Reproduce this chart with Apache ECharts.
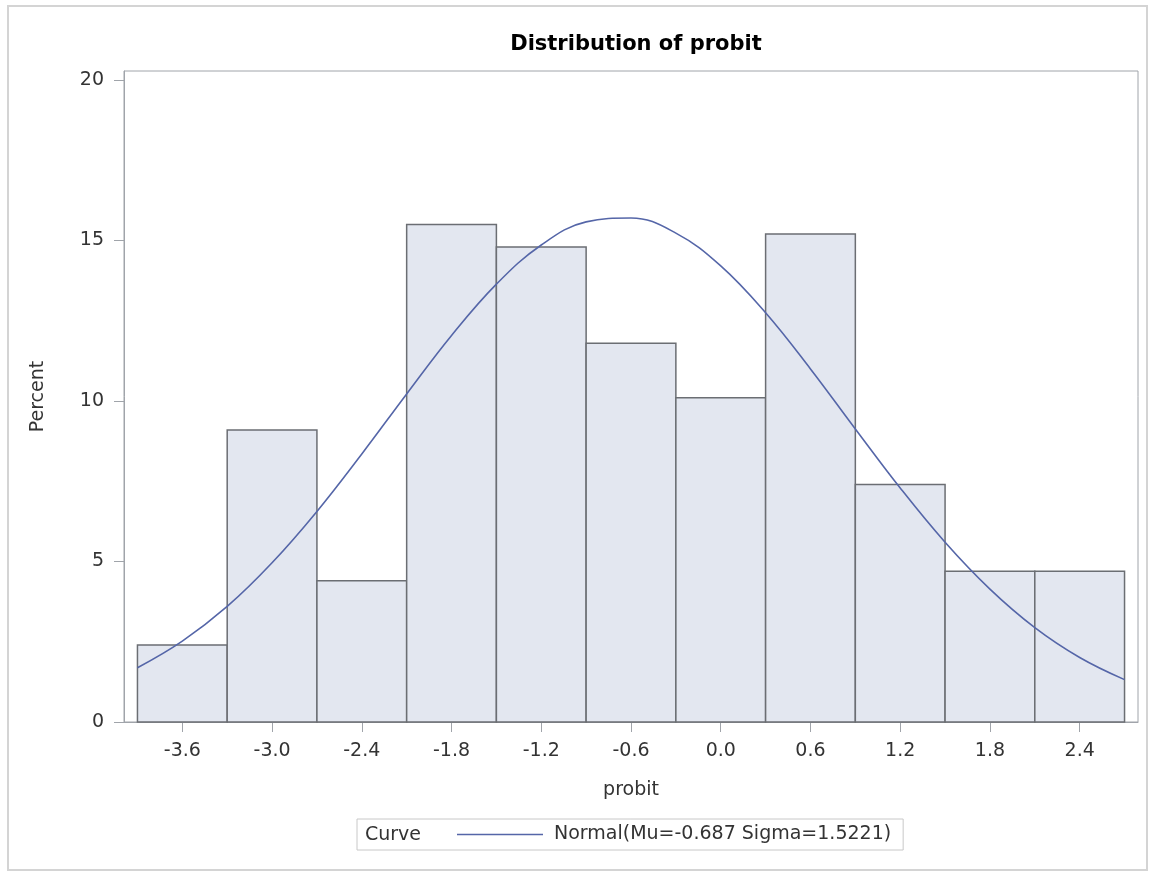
<!DOCTYPE html>
<html>
<head>
<meta charset="utf-8">
<script src="https://cdn.jsdelivr.net/npm/echarts@6/dist/echarts.min.js"></script>
<style>
    html, body { margin: 0; padding: 0; background: #fff; }
    #main { width: 1154px; height: 871px; }
</style>
</head>
<body>
<div id="main"></div>
<script>
// bin midpoints (width 0.6) and percent per bin
var binMids = [-3.6, -3.0, -2.4, -1.8, -1.2, -0.6, 0.0, 0.6, 1.2, 1.8, 2.4];
var binPct = [2.4, 9.1, 4.4, 15.5, 14.8, 11.8, 10.1, 15.2, 7.4, 4.7, 4.7];
var binWidth = 0.6;

// normal curve
var curveX = [-3.9, -3.6, -3.3, -3.0, -2.7, -2.4, -2.1, -1.8, -1.5, -1.2, -0.9, -0.6,
    -0.3, 0.0, 0.3, 0.6, 0.9, 1.2, 1.5, 1.8, 2.1, 2.4, 2.7];
var curveY = [1.69, 2.52, 3.60, 4.96, 6.56, 8.35, 10.22, 12.04, 13.64, 14.86, 15.58, 15.70,
    15.23, 14.21, 12.75, 11.00, 9.13, 7.29, 5.60, 4.14, 2.94, 2.01, 1.32];

var xTicks = [-3.6, -3.0, -2.4, -1.8, -1.2, -0.6, 0.0, 0.6, 1.2, 1.8, 2.4];
var yTicks = [0, 5, 10, 15, 20];

var curveName = 'Normal(Mu=-0.687 Sigma=1.5221)';
var font = '"DejaVu Sans", Verdana, sans-serif';
var textColor = '#333';
var axisColor = '#a0a4aa';

var chart = echarts.init(document.getElementById('main'));

var histData = binMids.map(function (m, i) { return [m, binPct[i]]; });
var curveData = curveX.map(function (x, i) { return [x, curveY[i]]; });

var option = {
    animation: false,
    backgroundColor: '#fff',
    title: {
        text: 'Distribution of probit',
        left: 631,
        textAlign: 'center',
        top: 29,
        textStyle: { fontFamily: font, fontWeight: 'bold', fontSize: 21, color: '#000' }
    },
    grid: { left: 124, top: 71, right: 16, bottom: 149, show: true, borderColor: axisColor, borderWidth: 1 },
    xAxis: {
        type: 'value',
        min: -3.99,
        max: 2.79,
        name: 'probit',
        nameLocation: 'middle',
        nameGap: 59,
        nameTextStyle: { fontFamily: font, fontSize: 19, color: textColor },
        splitLine: { show: false },
        axisLine: { show: true, onZero: false, lineStyle: { color: axisColor } },
        axisTick: { show: true, customValues: xTicks, length: 10, lineStyle: { color: axisColor } },
        axisLabel: {
            customValues: xTicks, margin: 20,
            fontFamily: font, fontSize: 19, color: textColor,
            formatter: function (v) { return v.toFixed(1); }
        }
    },
    yAxis: {
        type: 'value',
        min: 0,
        max: 20.28,
        name: 'Percent',
        nameLocation: 'middle',
        nameGap: 76,
        nameTextStyle: { fontFamily: font, fontSize: 19, color: textColor },
        splitLine: { show: false },
        axisLine: { show: true, onZero: false, lineStyle: { color: axisColor } },
        axisTick: { show: true, customValues: yTicks, length: 10, lineStyle: { color: axisColor } },
        axisLabel: { customValues: yTicks, margin: 20, fontFamily: font, fontSize: 19, color: textColor }
    },
    legend: {
        data: [{ name: curveName, icon: 'rect' }],
        left: 357,
        top: 819,
        padding: [6, 12, 6, 100],
        borderColor: '#c8c8c8',
        borderWidth: 1,
        itemWidth: 86,
        itemHeight: 1.6,
        textStyle: { fontFamily: font, fontSize: 19, color: textColor, padding: [0, 0, 0, 6] }
    },
    graphic: [
        {
            type: 'rect',
            shape: { x: 8, y: 6, width: 1139, height: 864 },
            style: { fill: 'none', stroke: '#d4d4d4', lineWidth: 2 },
            silent: true
        },
        {
            type: 'text',
            x: 365,
            y: 835,
            style: { text: 'Curve', fontFamily: font, fontSize: 19, fill: textColor, verticalAlign: 'middle' }
        }
    ],
    series: [
        {
            type: 'custom',
            name: 'hist',
            data: histData,
            renderItem: function (params, api) {
                var mid = api.value(0);
                var p0 = api.coord([mid - binWidth / 2, api.value(1)]);
                var p1 = api.coord([mid + binWidth / 2, 0]);
                return {
                    type: 'rect',
                    shape: { x: p0[0], y: p0[1], width: p1[0] - p0[0], height: p1[1] - p0[1] },
                    style: { fill: '#e3e7f0', stroke: '#6b6e73', lineWidth: 1.5 }
                };
            }
        },
        {
            type: 'line',
            name: curveName,
            data: curveData,
            smooth: 0.4,
            symbol: 'none',
            lineStyle: { color: '#5566a8', width: 1.6 },
            itemStyle: { color: '#5566a8' }
        }
    ]
};
chart.setOption(option);
</script>
</body>
</html>
